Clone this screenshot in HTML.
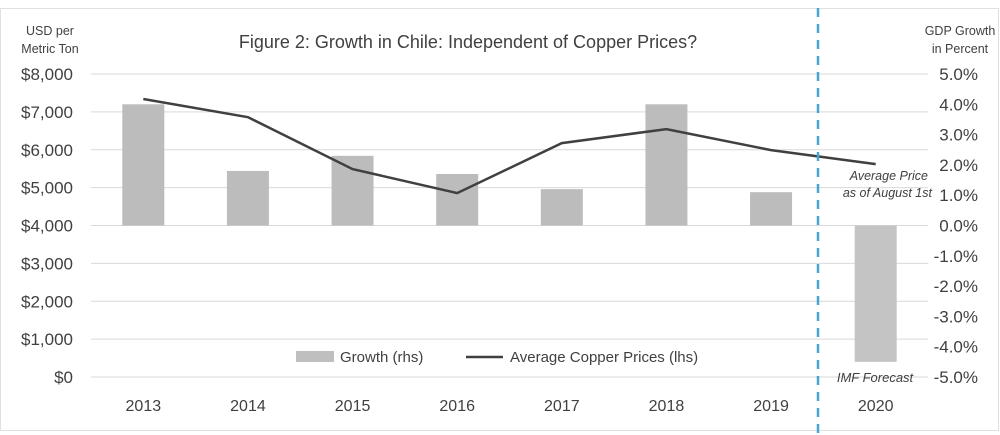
<!DOCTYPE html>
<html><head><meta charset="utf-8"><style>
body{margin:0;background:#fff;}
svg{display:block;font-family:"Liberation Sans",sans-serif;}
</style></head><body>
<svg id="chart" width="1000" height="435" viewBox="0 0 1000 435">
<rect x="0.5" y="8.5" width="998" height="422" fill="#fff" stroke="#e0e0e0"/>
<text x="468" y="48" font-size="18" fill="#404040" text-anchor="middle">Figure 2: Growth in Chile: Independent of Copper Prices?</text>
<text x="50" y="35" font-size="12.5" fill="#404040" text-anchor="middle"><tspan x="50">USD per</tspan><tspan x="50" dy="18">Metric Ton</tspan></text>
<text x="960" y="35" font-size="12.5" fill="#404040" text-anchor="middle"><tspan x="960">GDP Growth</tspan><tspan x="960" dy="18">in Percent</tspan></text>
<g id="grid"></g><g id="bars"></g><g id="line"></g><g id="labels"></g>
<line x1="818" y1="8" x2="818" y2="435" stroke="#4ba3cf" stroke-width="2.5" stroke-dasharray="9,7"/>
<text font-size="12.5" font-style="italic" fill="#404040" text-anchor="end"><tspan x="928" y="180">Average Price</tspan><tspan x="932" y="197">as of August 1st</tspan></text>
<text x="875" y="382" font-size="13" font-style="italic" fill="#404040" text-anchor="middle">IMF Forecast</text>
<g>
<rect x="296" y="351" width="38" height="11" fill="#bfbfbf"/>
<text x="340" y="362" font-size="15" fill="#404040">Growth (rhs)</text>
<line x1="466" y1="357" x2="503" y2="357" stroke="#404040" stroke-width="2.5"/>
<text x="510" y="362" font-size="15" fill="#404040">Average Copper Prices (lhs)</text>
</g>
</svg>
<script>
const years=["2013","2014","2015","2016","2017","2018","2019","2020"];
const growth=[4.0,1.8,2.3,1.7,1.2,4.0,1.1,-4.5];
const prices=[7340,6860,5490,4855,6175,6545,5990,5620];
const leftTicks=[0,1000,2000,3000,4000,5000,6000,7000,8000];
const rightTicks=[-5,-4,-3,-2,-1,0,1,2,3,4,5];
const NS="http://www.w3.org/2000/svg";
const x0=91,x1=928,yTop=74,yBot=377;
const step=(x1-x0)/years.length;
const xC=i=>x0+step*(i+0.5);
const yL=v=>yBot-(v/8000)*(yBot-yTop);
const yR=v=>yBot-((v+5)/10)*(yBot-yTop);
function mk(t,a,p){const e=document.createElementNS(NS,t);for(const k in a)e.setAttribute(k,a[k]);p.appendChild(e);return e;}
const g=document.getElementById('grid'),b=document.getElementById('bars'),l=document.getElementById('line'),lb=document.getElementById('labels');
leftTicks.forEach(v=>{
 const ln=mk('line',{x1:x0,x2:x1,y1:yL(v),y2:yL(v),stroke:'#d9d9d9','stroke-width':1},g);
 
 
 const t=mk('text',{x:73,y:yL(v)+6,'font-size':17,fill:'#404040','text-anchor':'end'},lb);
 t.textContent='$'+v.toLocaleString('en-US');
 
 
});
rightTicks.forEach(v=>{
 const t=mk('text',{x:978,y:yR(v)+6,'font-size':17,fill:'#404040','text-anchor':'end'},lb);
 t.textContent=v.toFixed(1)+'%';
 
 
});
const bw=42;
growth.forEach((v,i)=>{
 const y=Math.min(yR(v),yR(0)),h=Math.abs(yR(v)-yR(0));
 const r=mk('rect',{x:xC(i)-bw/2,y:y,width:bw,height:h,fill:i==7?'#c4c4c4':'#bcbcbc'},b);
 
 
 const t=mk('text',{x:xC(i),y:411,'font-size':16,fill:'#404040','text-anchor':'middle'},lb);
 t.textContent=years[i];
 
 
});
const pl=mk('polyline',{points:prices.map((v,i)=>xC(i)+','+yL(v)).join(' '),fill:'none',stroke:'#404040','stroke-width':2.5},l);


</script>
</body></html>
